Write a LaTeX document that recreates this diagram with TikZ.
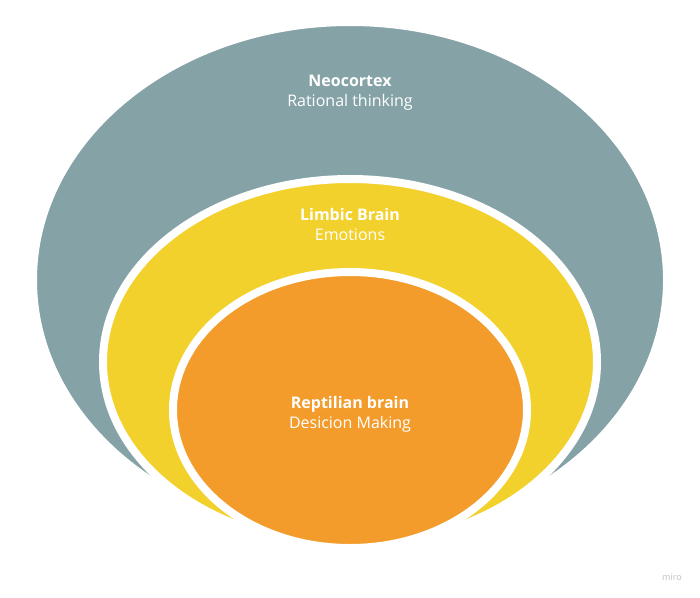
\documentclass[tikz,border=0pt]{standalone}
\usepackage{fontspec}
\setmainfont{Open Sans}
\usetikzlibrary{shapes.geometric}
\definecolor{neogray}{HTML}{85A3A6}
\definecolor{limbicyellow}{HTML}{F3D12C}
\definecolor{reporange}{HTML}{F39C2B}
\tikzset{
  brainpart/.style={ellipse,draw=white,line width=8pt,inner sep=0pt},
  brainlabel/.style={text=white,align=center,font=\fontsize{16}{20}\selectfont}
}
\begin{document}
\begin{tikzpicture}[x=1pt,y=-1pt]
  \useasboundingbox (0,0) rectangle (700,597);
  \fill[white] (0,0) rectangle (700,597);
  \node[brainpart,fill=neogray,minimum width=634pt,minimum height=516pt] (neo) at (350,280) {};
  \node[brainpart,fill=limbicyellow,minimum width=494pt,minimum height=366pt] (limbic) at (350,362) {};
  \node[brainpart,fill=reporange,minimum width=354pt,minimum height=276pt] (reptile) at (350,410) {};
  \node[brainlabel] (neotext) at (350,93) {\textbf{Neocortex}\\Rational thinking};
  \node[brainlabel] (limbictext) at (350,224) {\textbf{Limbic Brain}\\Emotions};
  \node[brainlabel] (reptext) at (350,414) {\textbf{Reptilian brain}\\Desicion Making};
  \node[text=gray!50,font=\fontsize{9}{10}\selectfont] (miro) at (672,577) {miro};
\end{tikzpicture}
\end{document}
